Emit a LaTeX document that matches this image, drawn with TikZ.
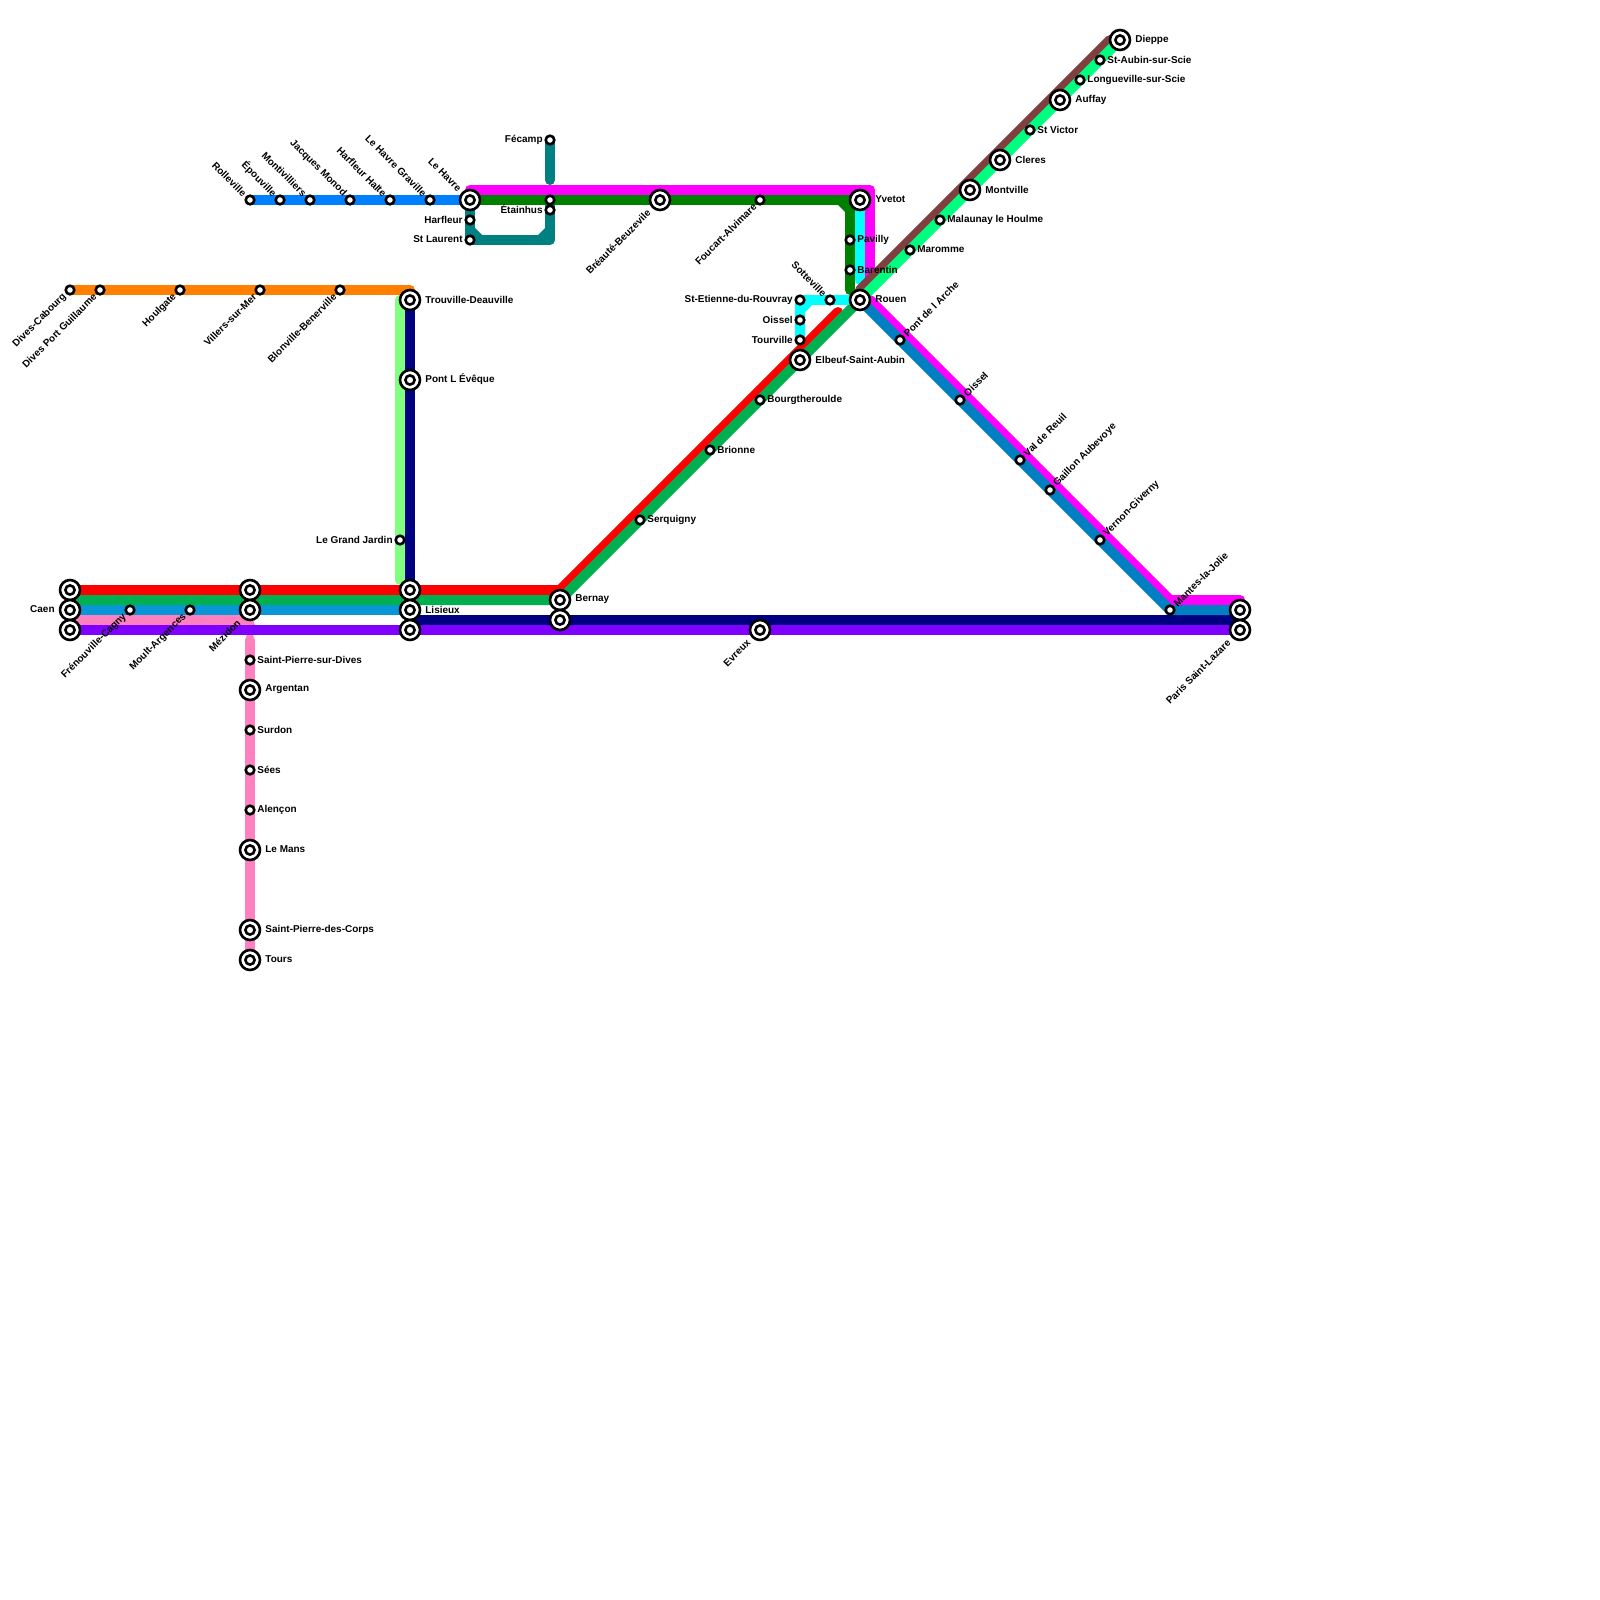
\documentclass[tikz,border=0pt]{standalone}
\usepackage{fontspec}
\setmainfont{Liberation Sans}
\pgfdeclarelayer{lines}
\pgfsetlayers{lines,main}
\definecolor{cRed}{HTML}{FF0000}
\definecolor{cGreen}{HTML}{00B050}
\definecolor{cBlue}{HTML}{0896D7}
\definecolor{cPink}{HTML}{FF80C0}
\definecolor{cPurple}{HTML}{8000FF}
\definecolor{cNavy}{HTML}{000080}
\definecolor{cMag}{HTML}{FF00FF}
\definecolor{cDGreen}{HTML}{008000}
\definecolor{cTeal}{HTML}{008080}
\definecolor{cCyan}{HTML}{00FFFF}
\definecolor{cLime}{HTML}{80FF80}
\definecolor{cOrange}{HTML}{FF8000}
\definecolor{cAzure}{HTML}{0080FF}
\definecolor{cSpring}{HTML}{00FF80}
\definecolor{cBrown}{HTML}{804040}
\definecolor{cSea}{HTML}{0080C0}
\tikzset{
  x=0.5pt,y=-0.5pt,
  rail/.style={line width=5pt,line cap=round,line join=round},
  lbl/.style={font=\fontsize{4.98}{6}\selectfont\bfseries,inner sep=0pt,text=black},
  bigo/.style={circle,draw=black,fill=white,line width=1.3pt,outer sep=0pt,minimum size=10pt,inner sep=0pt},
  bigi/.style={circle,draw=black,fill=white,line width=1.3pt,outer sep=0pt,minimum size=4.6pt,inner sep=0pt},
  smallst/.style={circle,draw=black,fill=white,line width=1.3pt,outer sep=0pt,minimum size=4.3pt,inner sep=0pt},
  lE/.style={lbl,anchor=west},
  lW/.style={lbl,anchor=east},
  lNE/.style={lbl,anchor=west,rotate=45},
  lNW/.style={lbl,anchor=east,rotate=-45},
  lSW/.style={lbl,anchor=east,rotate=45}
}
% big station: name, position
\newcommand{\stbig}[2]{\node[bigo] (#1) at (#2) {}; \node[bigi] (#1i) at (#2) {};}
\newcommand{\stsmall}[2]{\node[smallst] (#1) at (#2) {};}
% labels: station, text
\newcommand{\rE}[3][7]{\node[lE] (#2t) at ([xshift=#1*0.5pt,yshift=0.25pt]#2.center) {#3};}
\newcommand{\rW}[3][7]{\node[lW] (#2t) at ([xshift=-#1*0.5pt,yshift=0.25pt]#2.center) {#3};}
\newcommand{\rNE}[3][5]{\node[lNE] (#2t) at ([xshift=#1*0.5pt,yshift=#1*0.5pt]#2.center) {#3};}
\newcommand{\rNW}[3][5]{\node[lNW] (#2t) at ([xshift=-#1*0.5pt,yshift=#1*0.5pt]#2.center) {#3};}
\newcommand{\rSW}[3][5]{\node[lSW] (#2t) at ([xshift=-#1*0.5pt,yshift=-#1*0.5pt]#2.center) {#3};}
\begin{document}
\begin{tikzpicture}
\useasboundingbox (0,0) rectangle (1600,1600);
% ---- stations
\stbig{caenA}{70,590} \stbig{caenB}{70,610} \stbig{caenC}{70,630}
\stbig{mezA}{250,590} \stbig{mezB}{250,610}
\stbig{lisA}{410,590} \stbig{lisB}{410,610} \stbig{lisC}{410,630}
\stbig{berA}{560,600} \stbig{berB}{560,620}
\stbig{evreux}{760,630}
\stbig{parisA}{1240,610} \stbig{parisB}{1240,630}
\stbig{trouville}{410,300} \stbig{pontl}{410,380}
\stbig{lehavre}{470,200} \stbig{breaute}{660,200}
\stbig{yvetot}{860,200} \stbig{rouen}{860,300} \stbig{elbeuf}{800,360}
\stbig{argentan}{250,690} \stbig{lemans}{250,850} \stbig{spdc}{250,930} \stbig{tours}{250,960}
\stbig{montville}{970,190} \stbig{cleres}{1000,160} \stbig{auffay}{1060,100} \stbig{dieppe}{1120,40}
\stsmall{frenou}{130,610} \stsmall{moult}{190,610}
\stsmall{spsd}{250,660} \stsmall{surdon}{250,730} \stsmall{sees}{250,770} \stsmall{alencon}{250,810}
\stsmall{divesc}{70,290} \stsmall{divesp}{100,290} \stsmall{houlgate}{180,290} \stsmall{villers}{260,290} \stsmall{blonville}{340,290}
\stsmall{jardin}{400,540}
\stsmall{rolle}{250,200} \stsmall{epou}{280,200} \stsmall{monti}{310,200} \stsmall{jacques}{350,200} \stsmall{harhalte}{390,200} \stsmall{graville}{430,200}
\stsmall{harfleur}{470,220} \stsmall{laurent}{470,240}
\stsmall{fecamp}{550,140} \stsmall{etainA}{550,200} \stsmall{etainB}{550,210}
\stsmall{foucart}{760,200} \stsmall{pavilly}{850,240} \stsmall{barentin}{850,270}
\stsmall{etienne}{800,300} \stsmall{sotte}{830,300} \stsmall{oisselA}{800,320} \stsmall{tourville}{800,340}
\stsmall{bourg}{760,400} \stsmall{brionne}{710,450} \stsmall{serquigny}{640,520}
\stsmall{pontarche}{900,340} \stsmall{oisselB}{960,400} \stsmall{valreuil}{1020,460} \stsmall{gaillon}{1050,490} \stsmall{vernon}{1100,540} \stsmall{mantes}{1170,610}
\stsmall{maromme}{910,250} \stsmall{malaunay}{940,220} \stsmall{victor}{1030,130} \stsmall{longue}{1080,80} \stsmall{aubin}{1100,60}
% ---- free line ends and bends
\coordinate (rA) at (70,590);
\coordinate (rB) at (560,590);
\coordinate (rC) at (838,312);
\coordinate (gA) at (70,600);
\coordinate (pB) at (245,620);
\coordinate (pC) at (250,625);
\coordinate (pD) at (250,632);
\coordinate (pE) at (250,640);
\coordinate (pS) at (70,620);
\coordinate (oE) at (410,290);
\coordinate (liA) at (400,300);
\coordinate (liB) at (400,580);
\coordinate (nA) at (410,620);
\coordinate (nB) at (1240,620);
\coordinate (mA) at (470,190);
\coordinate (mB) at (870,190);
\coordinate (mC) at (870,280);
\coordinate (mD) at (870,300);
\coordinate (mE) at (1170,600);
\coordinate (mF) at (1240,600);
\coordinate (dgB) at (850,200);
\coordinate (dgC) at (850,290);
\coordinate (cyB) at (860,280);
\coordinate (tC) at (470,240);
\coordinate (tD) at (550,240);
\coordinate (tE) at (550,180);
\coordinate (brA) at (860,290);
\coordinate (brB) at (1110,40);
\begin{pgfonlayer}{lines}
\fill[white] (0,0) rectangle (1600,1600);
\draw[rail,cOrange] (divesc.center) -- (oE);
\draw[rail,cLime] (liA) -- (liB);
\draw[rail,cNavy] (trouville.center) -- (lisC.center);
\draw[rail,cNavy] (nA) -- (nB);
\draw[rail,cPink] (pS) -- (pB) -- (pC) -- (pD);
\draw[rail,cPink] (pE) -- (tours.center);
\draw[rail,cPurple] (caenC.center) -- (parisB.center);
\draw[rail,cBlue] (caenB.center) -- (lisB.center);
\draw[rail,cRed] (rA) -- (rB) -- (rC);
\draw[rail,cGreen] (gA) -- (berA.center) -- (rouen.center);
\draw[rail,cAzure] (rolle.center) -- (lehavre.center);
\draw[rail,cTeal] (etainA.center) -- (tD) -- (tC) -- (lehavre.center);
\fill[cTeal] (475,228) -- (475,235) -- (482,235) -- cycle;
\fill[cTeal] (545,228) -- (545,235) -- (538,235) -- cycle;
\draw[rail,cTeal] (fecamp.center) -- (tE);
\draw[rail,cMag] (lehavre.center) -- (mA) -- (mB) -- (mC);
\draw[rail,cMag] (mD) -- (mE) -- (mF);
\draw[rail,cSea] (rouen.center) -- (mantes.center) -- (parisA.center);
\draw[rail,cCyan] (yvetot.center) -- (cyB);
\draw[rail,cCyan] (tourville.center) -- (etienne.center) -- (rouen.center);
\fill[cCyan] (805,305) -- (805,312) -- (812,305) -- cycle;
\draw[rail,cDGreen] (lehavre.center) -- (dgB) -- (dgC);
\fill[cDGreen] (845,205) -- (838,205) -- (845,212) -- cycle;
\draw[rail,cBrown] (brA) -- (brB);
\draw[rail,cSpring] (rouen.center) -- (dieppe.center);
\end{pgfonlayer}
% ---- labels
\rW[15]{caenB}{Caen}
\rE[15]{lisB}{Lisieux}
\rE[15]{berA}{Bernay}
\rE[15]{trouville}{Trouville-Deauville}
\rE[15]{pontl}{Pont L Évêque}
\rW{jardin}{Le Grand Jardin}
\rSW{divesc}{Dives-Cabourg}
\rSW{divesp}{Dives Port Guillaume}
\rSW{houlgate}{Houlgate}
\rSW{villers}{Villers-sur-Mer}
\rSW{blonville}{Blonville-Benerville}
\rSW{frenou}{Frénouville-Cagny}
\rSW{moult}{Moult-Argences}
\rSW[11]{mezB}{Mézidon}
\rE{spsd}{Saint-Pierre-sur-Dives}
\rE[15]{argentan}{Argentan}
\rE{surdon}{Surdon}
\rE{sees}{Sées}
\rE{alencon}{Alençon}
\rE[15]{lemans}{Le Mans}
\rE[15]{spdc}{Saint-Pierre-des-Corps}
\rE[15]{tours}{Tours}
\rNW{rolle}{Rolleville}
\rNW{epou}{Épouville}
\rNW{monti}{Montivilliers}
\rNW{jacques}{Jacques Monod}
\rNW{harhalte}{Harfleur Halte}
\rNW{graville}{Le Havre Graville}
\rNW[10]{lehavre}{Le Havre}
\rW{harfleur}{Harfleur}
\rW{laurent}{St Laurent}
\rW{fecamp}{Fécamp}
\rW{etainB}{Étainhus}
\rSW[11]{breaute}{Bréauté-Beuzevile}
\rSW{foucart}{Foucart-Alvimare}
\rE[15]{yvetot}{Yvetot}
\rE{pavilly}{Pavilly}
\rE{barentin}{Barentin}
\rE[15]{rouen}{Rouen}
\rNW{sotte}{Sotteville}
\rW{etienne}{St-Etienne-du-Rouvray}
\rW{oisselA}{Oissel}
\rW{tourville}{Tourville}
\rE[15]{elbeuf}{Elbeuf-Saint-Aubin}
\rE{bourg}{Bourgtheroulde}
\rE{brionne}{Brionne}
\rE{serquigny}{Serquigny}
\rSW[11]{evreux}{Evreux}
\rSW[11]{parisB}{Paris Saint-Lazare}
\rNE{pontarche}{Pont de l Arche}
\rNE{oisselB}{Oissel}
\rNE{valreuil}{Val de Reuil}
\rNE{gaillon}{Gaillon Aubevoye}
\rNE{vernon}{Vernon-Giverny}
\rNE{mantes}{Mantes-la-Jolie}
\rE{maromme}{Maromme}
\rE{malaunay}{Malaunay le Houlme}
\rE[15]{montville}{Montville}
\rE[15]{cleres}{Cleres}
\rE{victor}{St Victor}
\rE[15]{auffay}{Auffay}
\rE{longue}{Longueville-sur-Scie}
\rE{aubin}{St-Aubin-sur-Scie}
\rE[15]{dieppe}{Dieppe}
\end{tikzpicture}
\end{document}
